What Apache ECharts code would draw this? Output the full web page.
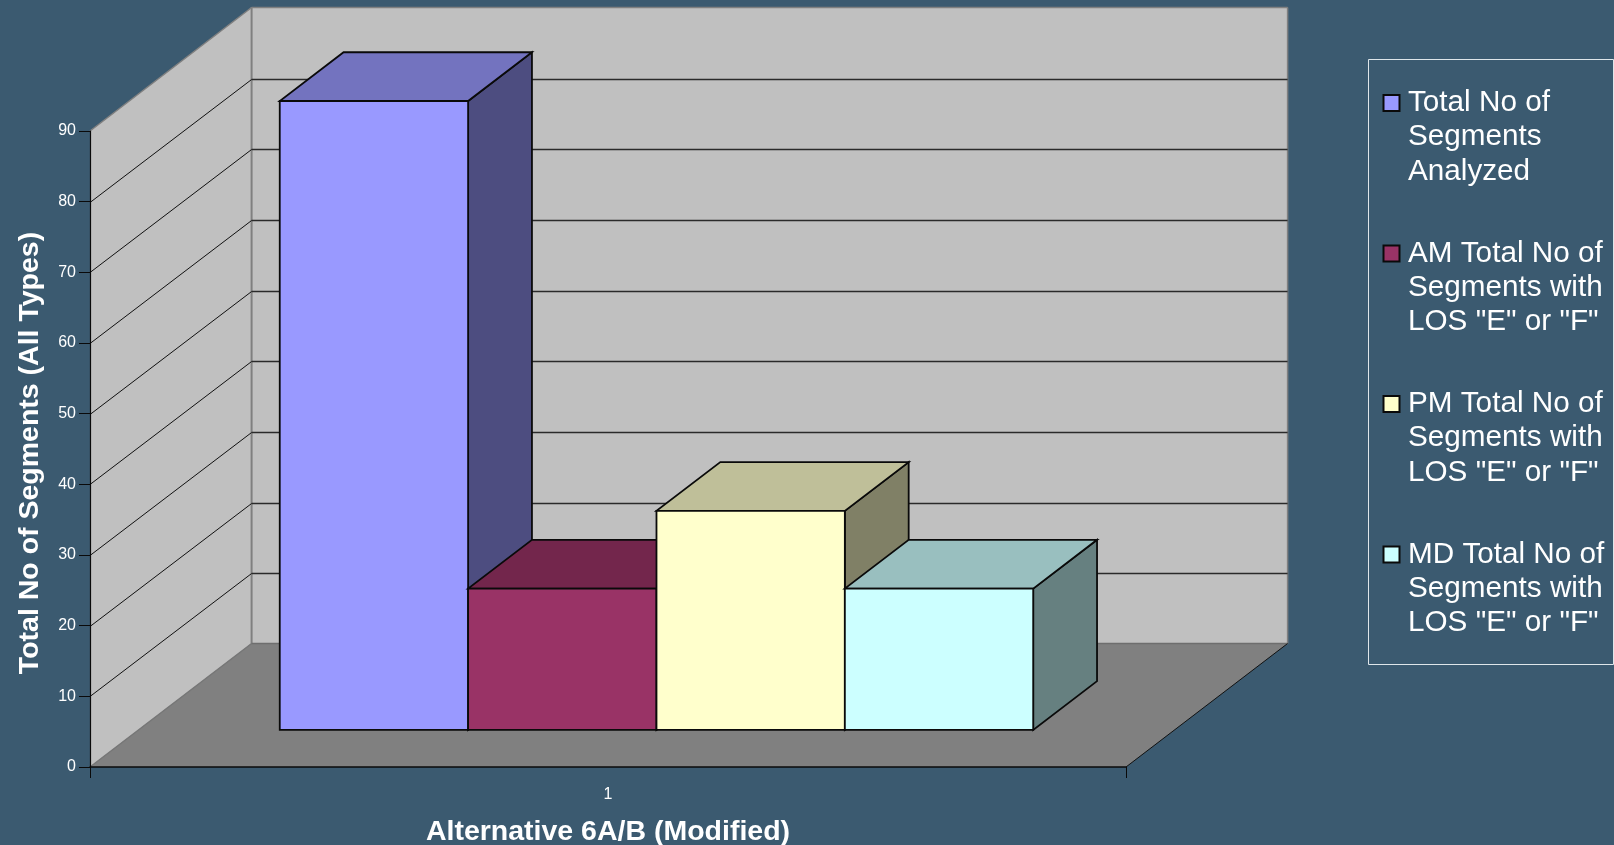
<!DOCTYPE html>
<html>
<head>
<meta charset="utf-8">
<style>html,body{margin:0;padding:0;background:#3b5a70;}#c{width:1614px;height:845px;}</style>
<script src="https://cdn.jsdelivr.net/npm/echarts@6/dist/echarts.min.js"></script>
</head>
<body>
<div id="c"></div>
<script>
const categories = ['1'];
const seriesNames = ['Total No of Segments Analyzed', 'AM Total No of Segments with LOS "E" or "F"', 'PM Total No of Segments with LOS "E" or "F"', 'MD Total No of Segments with LOS "E" or "F"'];
const legendLines = [['Total No of','Segments','Analyzed'], ['AM Total No of','Segments with','LOS "E" or "F"'], ['PM Total No of','Segments with','LOS "E" or "F"'], ['MD Total No of','Segments with','LOS "E" or "F"']];
const seriesValues = [89, 20, 31, 20];
const faceColors = ['#9999FF', '#993366', '#FFFFCC', '#CCFFFF'];
const topColors = ['#7373BF', '#73264C', '#BFBF99', '#99BFBF'];
const sideColors = ['#4D4D80', '#4D1933', '#808066', '#668080'];
const gridTicks = [10, 20, 30, 40, 50, 60, 70, 80];
const yMax = 90, yInterval = 10;

const DX = 161.6, DY = 123.5;         // oblique projection of the full floor depth
const BASE = 0.30, BAR_DEPTH = 0.395; // fractions of the floor depth
const GAP_BARS = 1.5;
const FONT = '"Liberation Sans", Arial, sans-serif';
const BG = '#3b5a70';

function poly(points, fill, stroke, lw) {
  return { type: 'polygon', shape: { points }, style: { fill, stroke: stroke || 'none', lineWidth: lw || 0, lineJoin: 'miter' } };
}
function seg(x1, y1, x2, y2, stroke, lw) {
  return { type: 'line', shape: { x1, y1, x2, y2 }, style: { stroke, lineWidth: lw } };
}

function renderWalls(params, api) {
  const c = api.coord([0, 0]), w = api.size([1, 0])[0];
  const x0 = c[0] - w / 2, x1 = c[0] + w / 2, y0 = c[1], yT = api.coord([0, yMax])[1];
  const children = [
    poly([[x0, y0], [x0 + DX, y0 - DY], [x0 + DX, yT - DY], [x0, yT]], '#C0C0C0'),
    poly([[x0 + DX, y0 - DY], [x1 + DX, y0 - DY], [x1 + DX, yT - DY], [x0 + DX, yT - DY]], '#C0C0C0'),
    poly([[x0, y0], [x1, y0], [x1 + DX, y0 - DY], [x0 + DX, y0 - DY]], '#808080'),
    seg(x0, yT, x0 + DX, yT - DY, '#808080', 1.5),
    seg(x0 + DX, yT - DY, x1 + DX, yT - DY, '#808080', 1.5),
    seg(x0 + DX, yT - DY, x0 + DX, y0 - DY, '#808080', 2),
    seg(x1 + DX, yT - DY, x1 + DX, y0 - DY, '#808080', 1.5),
    seg(x0, y0, x0 + DX, y0 - DY, '#777777', 1.5),
    seg(x0 + DX, y0 - DY, x1 + DX, y0 - DY, '#6e6e6e', 1.5),
    seg(x1, y0, x1 + DX, y0 - DY, '#111111', 1)
  ];
  return { type: 'group', children };
}

function renderGridLine(params, api) {
  const v = api.value(1);
  const c = api.coord([0, v]), w = api.size([1, 0])[0];
  const x0 = c[0] - w / 2, x1 = c[0] + w / 2, y = Math.round(c[1]) + 0.5;
  const yb = Math.round(y - DY) + 0.5;
  return { type: 'group', children: [
    seg(x0, y, x0 + DX, yb, '#111111', 1),
    seg(x0 + DX, yb, x1 + DX, yb, '#2a2a2a', 1.3)
  ] };
}

function barRenderer(i) {
  return function (params, api) {
    const v = api.value(1);
    const c0 = api.coord([0, 0]), cv = api.coord([0, v]), w = api.size([1, 0])[0];
    const bw = w / (seriesValues.length + GAP_BARS);
    const bx = BASE * DX, by = BASE * DY, dx = BAR_DEPTH * DX, dy = BAR_DEPTH * DY;
    const l = c0[0] - bw * seriesValues.length / 2 + i * bw + bx, r = l + bw;
    const b = c0[1] - by, t = cv[1] - by;
    const S = '#0a0a0a', L = 1.8;
    return { type: 'group', children: [
      poly([[r, t], [r + dx, t - dy], [r + dx, b - dy], [r, b]], sideColors[i], S, L),
      poly([[l, t], [r, t], [r + dx, t - dy], [l + dx, t - dy]], topColors[i], S, L),
      poly([[l, t], [r, t], [r, b], [l, b]], faceColors[i], S, L)
    ] };
  };
}

const barSeries = seriesNames.map((name, i) => ({
  type: 'custom', name, coordinateSystem: 'cartesian2d', z: 4, clip: false,
  renderItem: barRenderer(i),
  encode: { x: 0, y: 1 },
  itemStyle: { color: faceColors[i] },
  data: [[0, seriesValues[i]]]
}));

const chart = echarts.init(document.getElementById('c'), null, { renderer: 'canvas' });
chart.setOption({
  animation: false,
  backgroundColor: BG,
  textStyle: { fontFamily: FONT },
  grid: { left: 90, top: 131, width: 1036, height: 636, containLabel: false, outerBoundsMode: 'none' },
  graphic: [{ type: 'rect', silent: true, z: 1, shape: { x: 1368.5, y: 59.5, width: 245, height: 605 }, style: { fill: 'none', stroke: '#dfe6ea', lineWidth: 1 } }],
  legend: {
    orient: 'vertical', left: 1382.5, top: 17.25, padding: 0, itemGap: -21,
    itemWidth: 16, itemHeight: 16, icon: 'rect', align: 'left', selectedMode: false,
    data: seriesNames,
    itemStyle: { borderColor: '#0a0a0a', borderWidth: 2 },
    formatter: n => '\n\n' + legendLines[seriesNames.indexOf(n)].join('\n'),
    textStyle: { color: '#ffffff', fontSize: 29.7, lineHeight: 34.3, fontFamily: FONT, padding: [0, 0, 0, 3.5] }
  },
  xAxis: {
    type: 'category', data: categories, z: 6,
    boundaryGap: true,
    name: 'Alternative 6A/B (Modified)', nameLocation: 'middle', nameGap: 50.5,
    nameTextStyle: { color: '#ffffff', fontSize: 28.5, fontWeight: 'bold', fontFamily: FONT },
    axisLine: { show: true, lineStyle: { color: '#0a0a0a', width: 1.5 } },
    axisTick: { show: true, length: 11, lineStyle: { color: '#0a0a0a', width: 1 } },
    axisLabel: { color: '#ffffff', fontSize: 16, margin: 19.5, fontFamily: FONT },
    splitLine: { show: false }
  },
  yAxis: {
    type: 'value', min: 0, max: yMax, interval: yInterval, z: 6,
    name: 'Total No of Segments (All Types)', nameLocation: 'middle', nameGap: 45.5, nameRotate: 90,
    nameTextStyle: { color: '#ffffff', fontSize: 28.5, fontWeight: 'bold', fontFamily: FONT, padding: [0, 8, 0, 0] },
    axisLine: { show: true, lineStyle: { color: '#0a0a0a', width: 1.2 } },
    axisTick: { show: true, length: 11, lineStyle: { color: '#0a0a0a', width: 1 } },
    axisLabel: { color: '#ffffff', fontSize: 16, margin: 14, fontFamily: FONT },
    splitLine: { show: false }
  },
  series: [
    { type: 'custom', name: 'walls', coordinateSystem: 'cartesian2d', z: 1, silent: true, clip: false, renderItem: renderWalls, encode: { x: 0, y: 1 }, data: [[0, 0]] },
    { type: 'custom', name: 'gridlines', coordinateSystem: 'cartesian2d', z: 2, silent: true, clip: false, renderItem: renderGridLine, encode: { x: 0, y: 1 }, data: gridTicks.map(t => [0, t]) }
  ].concat(barSeries)
});
</script>
</body>
</html>
